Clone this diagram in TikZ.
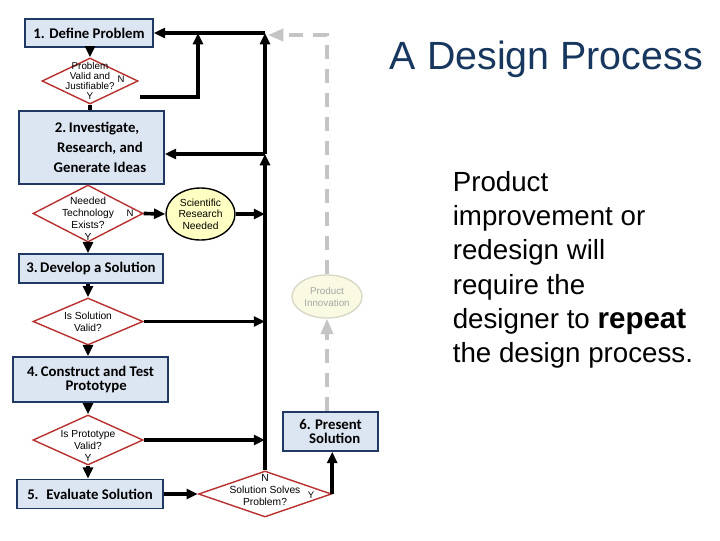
\documentclass[tikz,border=0pt]{standalone}
\usepackage{fontspec}
\setmainfont{Liberation Sans}
\newfontfamily\boxfont{Carlito}
\usetikzlibrary{shapes.geometric,arrows.meta}

\definecolor{stepfill}{HTML}{DCE6F2}
\definecolor{stepline}{HTML}{1F3864}
\definecolor{askline}{HTML}{B8312F}
\definecolor{ideafill}{HTML}{FFFFC4}
\definecolor{paleidea}{HTML}{FAFAE3}
\definecolor{paleline}{HTML}{D9D9C8}
\definecolor{paletext}{HTML}{A6A6A6}
\definecolor{loopgray}{HTML}{C4C4C4}
\definecolor{titleblue}{HTML}{17375E}

\begin{document}
\begin{tikzpicture}[x=0.025cm,y=-0.025cm,->,>={Triangle[length=8pt,width=7pt]},line width=2.6pt,
    stepbox/.style={rectangle,draw=stepline,line width=1.1pt,fill=stepfill,align=center,inner sep=0pt,
      font=\boxfont\bfseries\fontsize{10.5}{10}\selectfont},
    ask/.style={diamond,draw=askline,line width=1pt,fill=white,inner sep=0pt},
    asktext/.style={font=\fontsize{7.3}{8.5}\selectfont,align=center,inner sep=0pt},
    yn/.style={font=\fontsize{6.8}{7}\selectfont,inner sep=0pt},
    loopline/.style={draw=loopgray,dash pattern=on 10pt off 7pt,>={Triangle[length=11pt,width=8.5pt]}}]

\fill[white] (0,0) rectangle (720,540);

% left column
\node[stepbox,minimum width=3.2cm,minimum height=0.7cm] (b1) at (89,33) {1. Define Problem};
\node[ask,minimum width=2.4cm,minimum height=1.15cm,
  label={[asktext,font=\fontsize{7}{7.1}\selectfont]center:Problem\\Valid and\\Justifiable?\\Y}] (d1) at (90,81) {};
\node[yn] (n1) at (121,79) {N};
\node[stepbox,minimum width=3.625cm,minimum height=1.825cm,
  font=\boxfont\bfseries\fontsize{10.5}{14.2}\selectfont] (b2) at (91.5,147.5) {\hspace*{8pt}2.\,Investigate,\\ \hspace*{12pt}Research, and\\\hspace*{12pt}Generate Ideas};
\node[ask,minimum width=2.75cm,minimum height=1.425cm,
  label={[asktext,yshift=-3.5pt]center:Needed\\Technology\\Exists?\\Y}] (d2) at (88,213.5) {};
\node[yn] (n2) at (130,213) {N};
\node[ellipse,draw=black,line width=1pt,fill=ideafill,minimum width=1.725cm,minimum height=1.3cm,inner sep=0pt,
  align=center,font=\fontsize{7.3}{8.3}\selectfont] (sci) at (200.5,214) {Scientific\\Research\\Needed};
\node[stepbox,minimum width=3.6cm,minimum height=0.725cm] (b3) at (91,268.5) {3.\,Develop a Solution};
\node[ask,minimum width=2.75cm,minimum height=1.175cm,
  label={[asktext]center:Is Solution\\Valid?}] (d3) at (88,321.5) {};
\node[stepbox,minimum width=3.875cm,minimum height=1.125cm] (b4) at (90.5,379.5) {4.\,Construct and Test\\\hspace*{8pt}Prototype};
\node[ask,minimum width=2.75cm,minimum height=1.25cm,
  label={[asktext,yshift=-4pt]center:Is Prototype\\Valid?\\Y}] (d4) at (88,440) {};
\node[stepbox,minimum width=3.65cm,minimum height=0.725cm] (b5) at (90,494) {5.~ Evaluate Solution};

% right part of the loop
\node[ask,minimum width=3.325cm,minimum height=1.15cm,
  label={[asktext,yshift=3pt]center:N\\Solution Solves\\Problem?}] (d5) at (265,494) {};
\node[yn] (y5) at (311,495) {Y};
\node[stepbox,minimum width=2.375cm,minimum height=0.975cm] (b6) at (330.5,431.5) {6. Present\\ \hspace*{6pt}Solution};
\node[ellipse,draw=paleline,line width=1pt,fill=paleidea,text=paletext,minimum width=1.75cm,minimum height=1.075cm,
  inner sep=0pt,align=center,font=\fontsize{7}{8.5}\selectfont] (inno) at (327,296.5) {Product\\Innovation};

\coordinate (top) at (265,33);
\coordinate (mid) at (265,154);
\coordinate (n1out) at (140,97);
\coordinate (n1up) at (198,33);
\coordinate (dashtop) at (327,35);

% flow down the column
\draw (b1.south -| d1.north) -- (d1.north);
\draw[-] (d1.south) -- (d1.south |- b2.north);
\draw (d2.south) -- (d2.south |- b3.north);
\draw (b3.south -| d3.north) -- (d3.north);
\draw (d3.south) -- (d3.south |- b4.north);
\draw (b4.south -| d4.north) -- (d4.north);
\draw (d4.south) -- (d4.south |- b5.north);
\draw (b5.east) -- (d5.west);

% back to the loop line
\draw (n1out) -| (n1up);
\draw (d2.east) -- (sci.west);
\draw (sci.east) -- (sci.east -| top);
\draw (d3.east) -- (d3.east -| top);
\draw (d4.east) -- (d4.east -| top);
\draw (d5.north) -- (mid);
\draw (mid) -- (top);
\draw (top) -- (b1.east);
\draw (mid) -- (mid -| b2.east);
\draw (d5.east) -- (d5.east |- b6.south);

% product innovation
\draw[loopline] (b6.north -| inno) -- (inno.south);
\draw[loopline,shorten >=2pt] (inno.north) -- (dashtop) -- (dashtop -| top);

\node[anchor=base west,inner sep=0pt,text=titleblue,font=\fontsize{28}{34}\selectfont] (title) at (388,69) {A Design Process};
\node[anchor=north west,align=left,inner sep=0pt,font=\fontsize{19.7}{24.2}\selectfont] (note) at (451,170)
  {Product\\improvement or\\redesign will\\require the\\designer to {\fontsize{21}{24.2}\selectfont\bfseries repeat}\\the design process.};
\end{tikzpicture}
\end{document}
